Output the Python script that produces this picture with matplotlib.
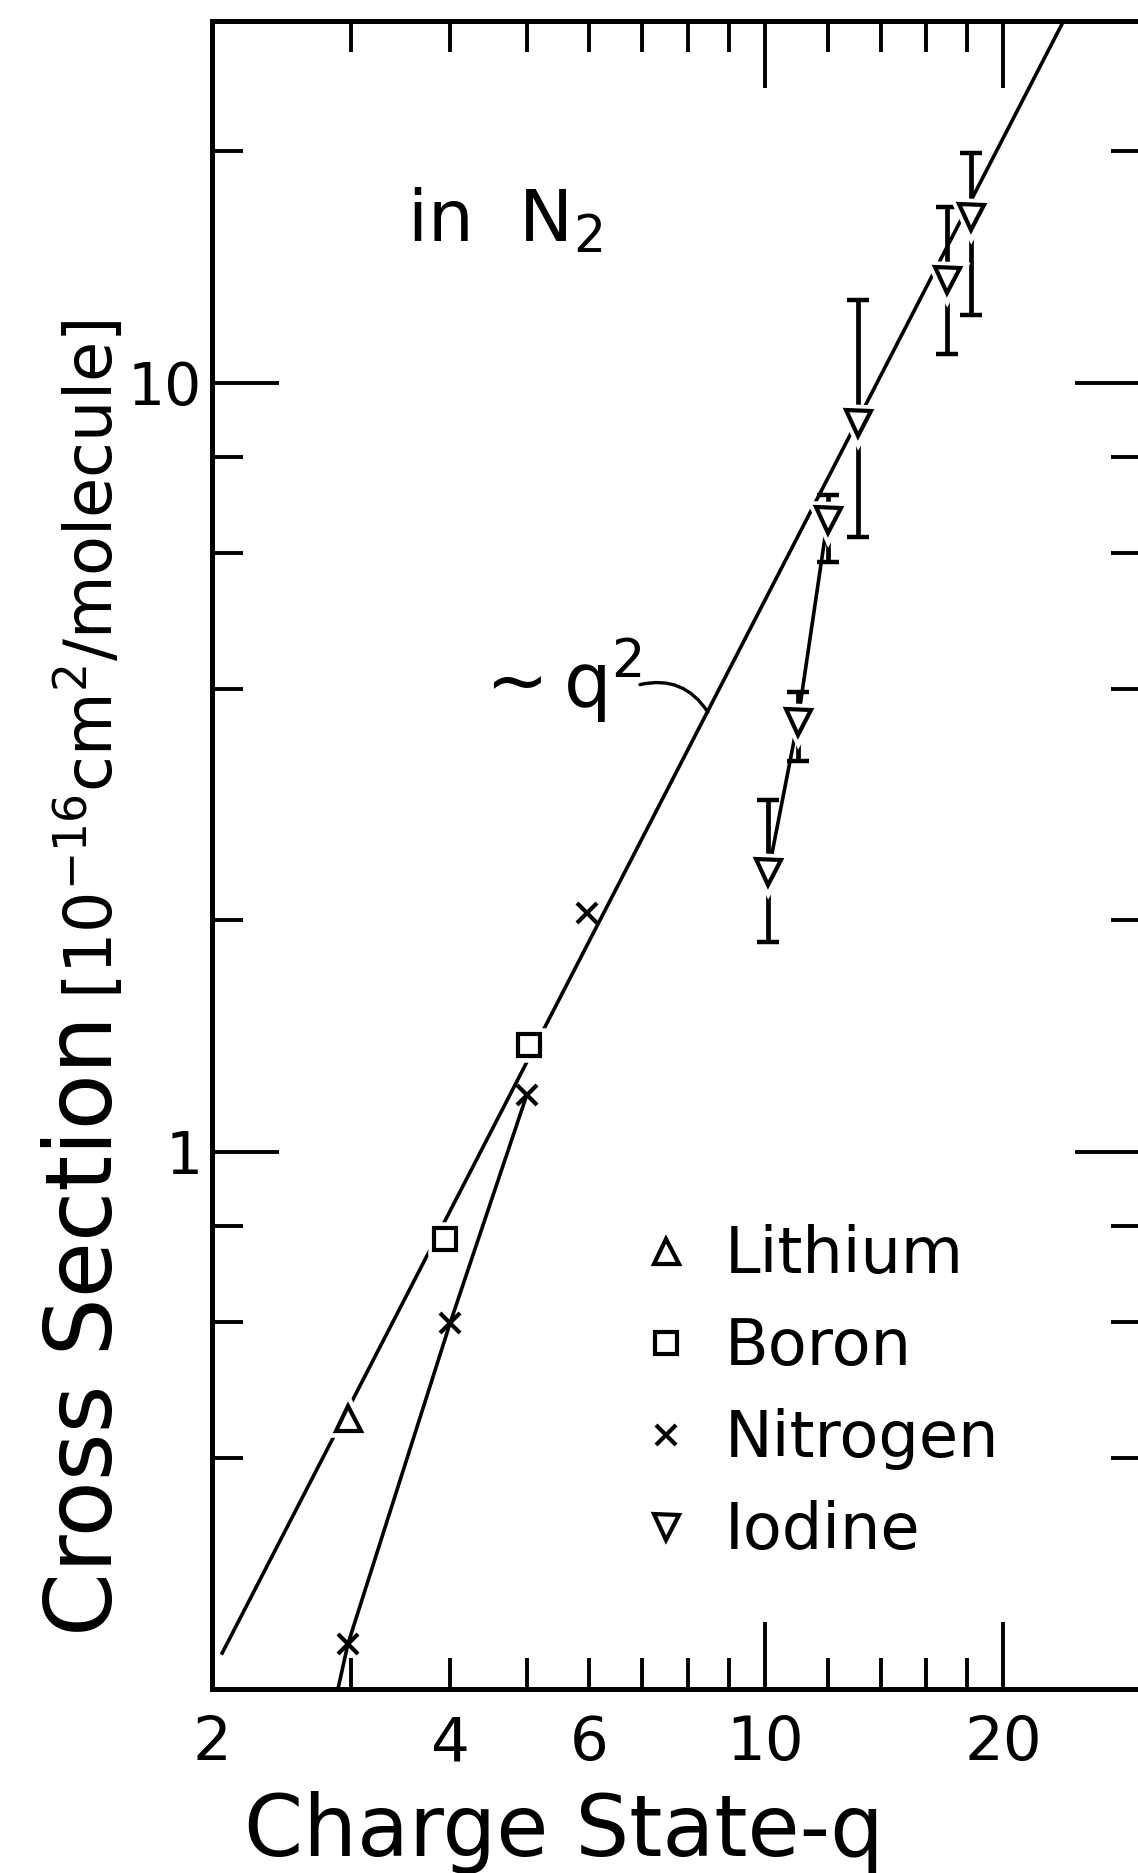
import matplotlib
matplotlib.use("Agg")
import matplotlib.pyplot as plt
from matplotlib.ticker import FixedLocator, FuncFormatter

plt.rcParams['font.family'] = ['DejaVu Sans']
plt.rcParams['mathtext.fontset'] = 'dejavusans'

# charge state q, cross section in 1e-16 cm^2/molecule
lithium_q = [2.97]
lithium_sigma = [0.451]

boron_q = [3.94, 5.03]
boron_sigma = [0.771, 1.378]

nitrogen_q = [2.97, 4.0, 5.0, 5.96]
nitrogen_sigma = [0.229, 0.599, 1.186, 2.045]

iodine_q = [10.1, 11.0, 12.0, 13.1, 17.0, 18.2]
iodine_sigma = [2.31, 3.62, 6.63, 8.87, 13.6, 16.4]
iodine_hi = [2.87, 3.96, 7.15, 12.8, 16.9, 19.9]
iodine_lo = [1.875, 3.22, 5.85, 6.31, 10.9, 12.25]

# ~q^2 guide line (end points)
guide_q = [2.06, 24.0]
guide_sigma = [0.223, 29.9]

# curves drawn through the nitrogen and low-q iodine points
nitrogen_curve_q = [2.885, 2.97, 4.0, 5.0]
nitrogen_curve_sigma = [0.2, 0.229, 0.599, 1.186]
iodine_curve_q = [10.1, 11.0, 12.0]
iodine_curve_sigma = [2.31, 3.62, 6.63]

x_major_ticks = [10, 20]
x_minor_ticks = [2, 3, 4, 5, 6, 7, 8, 9, 12, 14, 16, 18]
x_minor_labeled = [2, 4, 6]
y_major_ticks = [1, 10]
y_minor_ticks = [0.4, 0.6, 0.8, 2, 4, 6, 8, 20]

fig = plt.figure(figsize=(11.38, 18.73), dpi=100)
ax = fig.add_axes([0.1863, 0.0980, 0.8175, 0.8906])
ax.set_xscale('log')
ax.set_yscale('log')
ax.set_xlim(2, 30)
ax.set_ylim(0.2, 29.5)

LW = 2.6
ax.plot(guide_q, guide_sigma, color='k', lw=LW, zorder=2)
ax.plot(nitrogen_curve_q, nitrogen_curve_sigma, color='k', lw=LW, zorder=2)
ax.plot(iodine_curve_q, iodine_curve_sigma, color='k', lw=LW, zorder=2)

err_lo = [s - lo for s, lo in zip(iodine_sigma, iodine_lo)]
err_hi = [hi - s for s, hi in zip(iodine_sigma, iodine_hi)]
ax.errorbar(iodine_q, iodine_sigma, yerr=[err_lo, err_hi], fmt='none',
            ecolor='k', elinewidth=3.4, capsize=8, capthick=3.2, zorder=2)

series = [
    (lithium_q, lithium_sigma, '^', 18, 'Lithium'),
    (boron_q, boron_sigma, 's', 16, 'Boron'),
    (nitrogen_q, nitrogen_sigma, 'x', 15, 'Nitrogen'),
    (iodine_q, iodine_sigma, 'v', 18, 'Iodine'),
]
handles = []
for q, s, m, ms, name in series:
    # white halo leaves a small gap where lines meet the symbol
    if m != 'x':
        ax.plot(q, s, ls='none', marker=m, ms=ms, mfc='white', mec='white',
                mew=9, zorder=3)
    h, = ax.plot(q, s, ls='none', marker=m, ms=ms, mfc='white', mec='k',
                 mew=3.0, zorder=4, label=name)
    handles.append(h)

leg = fig.legend(handles=handles, loc='upper left',
                 bbox_to_anchor=(0.5624, 0.3465), frameon=False,
                 fontsize=46, handlelength=0.8, handletextpad=0.52,
                 labelspacing=0.47, borderpad=0, borderaxespad=0,
                 numpoints=1)

ax.text(3.53, 15.26, r'in  N$_2$', fontsize=52, ha='left', va='baseline')
ax.text(4.25, 3.79, r'$\sim$q$^2$', fontsize=54, ha='left', va='baseline')
ax.annotate('', xy=(8.47, 3.73), xytext=(6.95, 4.05),
            arrowprops=dict(arrowstyle='-', color='k', lw=2.4,
                            shrinkA=0, shrinkB=0,
                            connectionstyle='arc3,rad=-0.35'))

# ticks on all four sides, pointing inwards
ax.xaxis.set_major_locator(FixedLocator(x_major_ticks))
ax.xaxis.set_minor_locator(FixedLocator(x_minor_ticks))
ax.xaxis.set_major_formatter(FuncFormatter(lambda v, p: f'{v:g}'))
ax.xaxis.set_minor_formatter(FuncFormatter(
    lambda v, p: f'{v:g}' if round(v) in x_minor_labeled else ''))
ax.yaxis.set_major_locator(FixedLocator(y_major_ticks))
ax.yaxis.set_minor_locator(FixedLocator(y_minor_ticks))
ax.yaxis.set_major_formatter(FuncFormatter(lambda v, p: f'{v:g}'))
ax.yaxis.set_minor_formatter(FuncFormatter(lambda v, p: ''))

ax.tick_params(which='both', direction='in', top=True, right=True,
               width=2.8, labelsize=44, color='k')
ax.tick_params(which='major', length=48)
ax.tick_params(which='minor', length=22)
ax.tick_params(axis='x', which='both', pad=18)
ax.tick_params(axis='y', which='both', pad=7, labelsize=42)

for sp in ax.spines.values():
    sp.set_linewidth(3.6)

ax.set_xlabel('Charge State-q', fontsize=61, va='baseline')
ax.xaxis.set_label_coords(0.378, -0.0998)

# y label: large words, units in brackets set a little smaller
ax.set_ylabel('Cross Section', fontsize=66, ha='left', va='baseline')
ax.yaxis.set_label_coords(-0.108, 0.0323)
ax.text(-0.108, 0.8213,
        r'$\left[10^{-16}\mathrm{cm}^{2}/\mathrm{molecule}\right]$',
        transform=ax.transAxes, fontsize=47, rotation=90,
        rotation_mode='anchor', ha='right', va='baseline')

fig.savefig('out.png', dpi=100, facecolor='white')
